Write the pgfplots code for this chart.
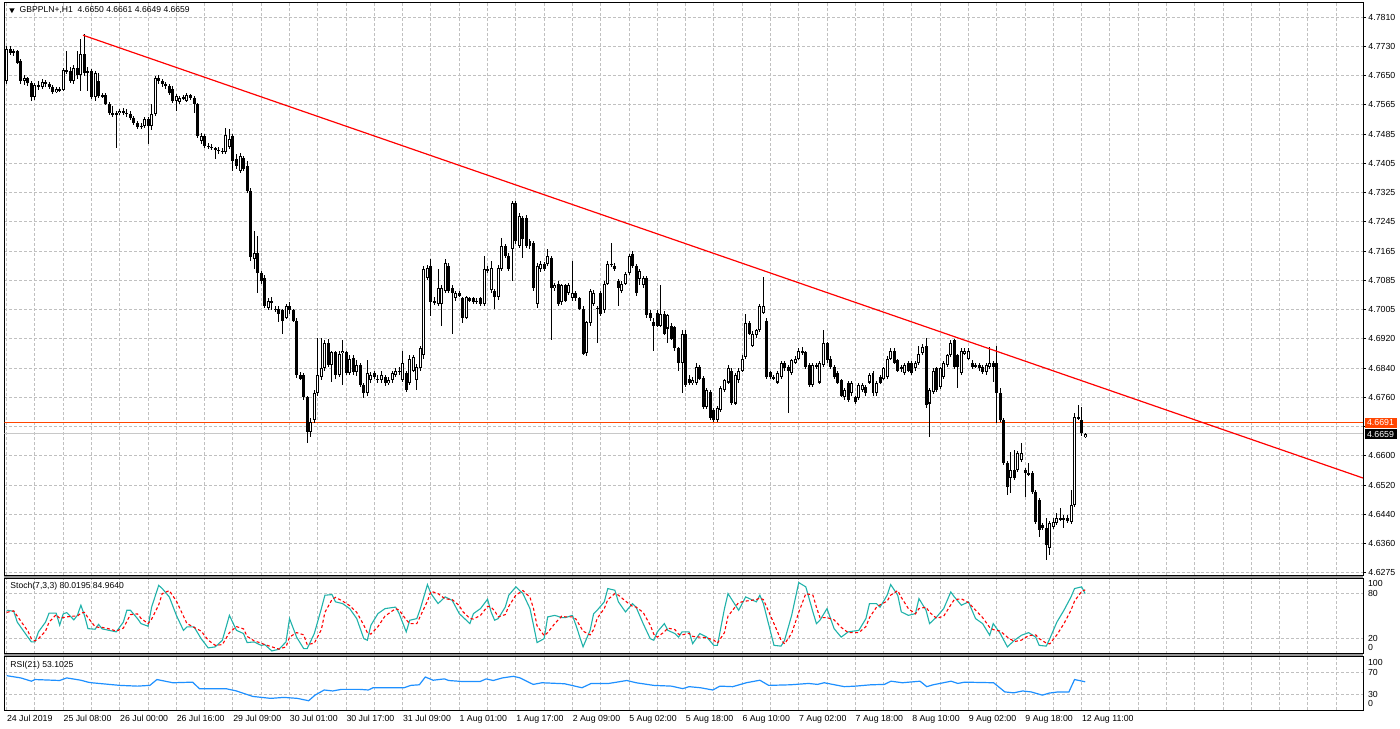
\documentclass[border=0pt]{standalone}
\usepackage{pgfplots}
\pgfplotsset{compat=1.18}
\usepackage{pgfplotstable}
\usepackage{fontspec}
\setmainfont{Liberation Sans}
\definecolor{gridc}{RGB}{192,192,192}
\definecolor{orangered}{RGB}{255,69,0}
\definecolor{stochk}{RGB}{32,178,170}
\definecolor{rsic}{RGB}{30,144,255}
\definecolor{sepc}{RGB}{150,150,150}
\definecolor{bidc}{RGB}{200,200,200}

\pgfplotstableread{
i o c h l
0 4.7634 4.7722 4.7730 4.7625
1 4.7722 4.7711 4.7730 4.7705
2 4.7711 4.7716 4.7722 4.7702
3 4.7716 4.7683 4.7719 4.7680
4 4.7689 4.7634 4.7694 4.7625
5 4.7634 4.7642 4.7650 4.7622
6 4.7642 4.7628 4.7645 4.7620
7 4.7628 4.7589 4.7634 4.7578
8 4.7589 4.7622 4.7628 4.7581
9 4.7622 4.7617 4.7634 4.7609
10 4.7617 4.7631 4.7639 4.7611
11 4.7631 4.7625 4.7636 4.7617
12 4.7625 4.7617 4.7631 4.7611
13 4.7617 4.7603 4.7622 4.7598
14 4.7603 4.7611 4.7617 4.7600
15 4.7611 4.7609 4.7617 4.7603
16 4.7609 4.7664 4.7669 4.7606
17 4.7664 4.7661 4.7716 4.7653
18 4.7661 4.7634 4.7672 4.7628
19 4.7634 4.7669 4.7678 4.7625
20 4.7669 4.7650 4.7716 4.7639
21 4.7650 4.7708 4.7749 4.7606
22 4.7708 4.7656 4.7763 4.7647
23 4.7656 4.7661 4.7672 4.7606
24 4.7661 4.7589 4.7667 4.7584
25 4.7589 4.7656 4.7661 4.7578
26 4.7634 4.7592 4.7656 4.7587
27 4.7592 4.7595 4.7600 4.7587
28 4.7595 4.7570 4.7600 4.7567
29 4.7570 4.7545 4.7576 4.7540
30 4.7545 4.7540 4.7565 4.7534
31 4.7540 4.7545 4.7551 4.7449
32 4.7545 4.7551 4.7556 4.7540
33 4.7551 4.7545 4.7559 4.7540
34 4.7545 4.7543 4.7556 4.7534
35 4.7543 4.7532 4.7551 4.7526
36 4.7532 4.7518 4.7537 4.7512
37 4.7518 4.7507 4.7523 4.7501
38 4.7507 4.7510 4.7518 4.7501
39 4.7510 4.7529 4.7534 4.7504
40 4.7529 4.7510 4.7534 4.7460
41 4.7510 4.7543 4.7570 4.7498
42 4.7543 4.7642 4.7647 4.7537
43 4.7642 4.7634 4.7650 4.7625
44 4.7634 4.7625 4.7639 4.7617
45 4.7625 4.7620 4.7631 4.7611
46 4.7620 4.7600 4.7625 4.7595
47 4.7611 4.7578 4.7620 4.7573
48 4.7578 4.7592 4.7598 4.7551
49 4.7576 4.7587 4.7592 4.7570
50 4.7587 4.7589 4.7595 4.7581
51 4.7578 4.7595 4.7600 4.7576
52 4.7595 4.7587 4.7598 4.7581
53 4.7587 4.7570 4.7592 4.7545
54 4.7570 4.7482 4.7573 4.7476
55 4.7468 4.7482 4.7490 4.7460
56 4.7482 4.7454 4.7487 4.7449
57 4.7454 4.7452 4.7463 4.7446
58 4.7452 4.7449 4.7460 4.7443
59 4.7449 4.7443 4.7452 4.7419
60 4.7443 4.7441 4.7452 4.7432
61 4.7441 4.7438 4.7449 4.7432
62 4.7438 4.7485 4.7504 4.7432
63 4.7452 4.7474 4.7501 4.7446
64 4.7482 4.7413 4.7487 4.7385
65 4.7419 4.7399 4.7432 4.7391
66 4.7385 4.7427 4.7435 4.7380
67 4.7421 4.7391 4.7427 4.7385
68 4.7399 4.7330 4.7413 4.7325
69 4.7330 4.7148 4.7339 4.7137
70 4.7143 4.7159 4.7220 4.7115
71 4.7159 4.7104 4.7206 4.7047
72 4.7104 4.7082 4.7110 4.7074
73 4.7090 4.7013 4.7099 4.7008
74 4.7008 4.7027 4.7033 4.7002
75 4.7027 4.7022 4.7036 4.7000
76 4.7005 4.7002 4.7013 4.6997
77 4.7005 4.6991 4.7011 4.6967
78 4.7000 4.6972 4.7005 4.6936
79 4.6980 4.7013 4.7019 4.6975
80 4.7013 4.7000 4.7022 4.6991
81 4.7000 4.6972 4.7005 4.6967
82 4.6972 4.6821 4.6978 4.6812
83 4.6821 4.6812 4.6829 4.6807
84 4.6821 4.6760 4.6826 4.6752
85 4.6760 4.6663 4.6765 4.6633
86 4.6663 4.6691 4.6702 4.6650
87 4.6697 4.6771 4.6779 4.6688
88 4.6771 4.6821 4.6925 4.6765
89 4.6815 4.6840 4.6925 4.6807
90 4.6840 4.6909 4.6917 4.6834
91 4.6909 4.6848 4.6922 4.6843
92 4.6848 4.6884 4.6889 4.6801
93 4.6884 4.6821 4.6889 4.6812
94 4.6821 4.6881 4.6889 4.6815
95 4.6881 4.6887 4.6917 4.6793
96 4.6884 4.6826 4.6889 4.6821
97 4.6826 4.6867 4.6876 4.6821
98 4.6870 4.6829 4.6878 4.6823
99 4.6829 4.6848 4.6862 4.6818
100 4.6848 4.6793 4.6854 4.6788
101 4.6793 4.6771 4.6801 4.6757
102 4.6771 4.6826 4.6862 4.6765
103 4.6807 4.6821 4.6829 4.6801
104 4.6826 4.6815 4.6834 4.6810
105 4.6812 4.6807 4.6821 4.6799
106 4.6807 4.6823 4.6832 4.6801
107 4.6815 4.6799 4.6821 4.6790
108 4.6799 4.6807 4.6815 4.6793
109 4.6807 4.6826 4.6832 4.6801
110 4.6821 4.6834 4.6840 4.6815
111 4.6834 4.6829 4.6843 4.6823
112 4.6807 4.6854 4.6889 4.6801
113 4.6826 4.6779 4.6834 4.6774
114 4.6799 4.6867 4.6876 4.6793
115 4.6834 4.6870 4.6878 4.6829
116 4.6807 4.6843 4.6851 4.6779
117 4.6840 4.6895 4.6903 4.6834
118 4.6876 4.7115 4.7124 4.6867
119 4.7090 4.7118 4.7126 4.7085
120 4.7124 4.7022 4.7143 4.6986
121 4.7022 4.7027 4.7036 4.7016
122 4.7019 4.7063 4.7115 4.7013
123 4.7019 4.7063 4.7069 4.6958
124 4.7055 4.7132 4.7143 4.7049
125 4.7124 4.7055 4.7132 4.7049
126 4.7063 4.7047 4.7069 4.6936
127 4.7033 4.7049 4.7055 4.7027
128 4.7049 4.7041 4.7055 4.7036
129 4.7033 4.6980 4.7038 4.6964
130 4.6980 4.7036 4.7041 4.6975
131 4.7033 4.7027 4.7038 4.7022
132 4.7033 4.7024 4.7038 4.7019
133 4.7024 4.7027 4.7033 4.7019
134 4.7033 4.7019 4.7038 4.7013
135 4.7019 4.7115 4.7151 4.7013
136 4.7115 4.7110 4.7124 4.7104
137 4.7055 4.7118 4.7137 4.7049
138 4.7055 4.7036 4.7060 4.7005
139 4.7036 4.7118 4.7126 4.7030
140 4.7115 4.7179 4.7201 4.7110
141 4.7179 4.7151 4.7184 4.7146
142 4.7151 4.7115 4.7159 4.7110
143 4.7171 4.7297 4.7303 4.7082
144 4.7297 4.7193 4.7303 4.7184
145 4.7179 4.7261 4.7270 4.7171
146 4.7256 4.7198 4.7261 4.7146
147 4.7256 4.7179 4.7264 4.7173
148 4.7193 4.7179 4.7198 4.7171
149 4.7187 4.7063 4.7193 4.7055
150 4.7019 4.7124 4.7132 4.7008
151 4.7115 4.7129 4.7137 4.7107
152 4.7129 4.7115 4.7135 4.7110
153 4.7129 4.7151 4.7170 4.7124
154 4.7146 4.7063 4.7151 4.6917
155 4.7063 4.7069 4.7077 4.7055
156 4.7074 4.7019 4.7080 4.7013
157 4.7022 4.7069 4.7074 4.7016
158 4.7069 4.7027 4.7074 4.7022
159 4.7049 4.7069 4.7077 4.7044
160 4.7033 4.7049 4.7137 4.7027
161 4.7049 4.7033 4.7055 4.7027
162 4.7033 4.7005 4.7038 4.7000
163 4.7005 4.6881 4.7011 4.6876
164 4.6881 4.6967 4.6972 4.6873
165 4.6964 4.7055 4.7060 4.6958
166 4.7019 4.7049 4.7055 4.7013
167 4.7008 4.7005 4.7013 4.6911
168 4.7049 4.6991 4.7055 4.6986
169 4.7000 4.7074 4.7080 4.6994
170 4.7074 4.7129 4.7137 4.7069
171 4.7129 4.7126 4.7187 4.7121
172 4.7124 4.7115 4.7132 4.7110
173 4.7082 4.7063 4.7088 4.7013
174 4.7055 4.7074 4.7080 4.7049
175 4.7074 4.7101 4.7107 4.7069
176 4.7104 4.7151 4.7157 4.7099
177 4.7157 4.7124 4.7165 4.7118
178 4.7124 4.7047 4.7129 4.7041
179 4.7088 4.7110 4.7115 4.7069
180 4.7069 4.7090 4.7096 4.7063
181 4.7090 4.6986 4.7096 4.6978
182 4.6994 4.6980 4.7000 4.6972
183 4.6967 4.6958 4.6978 4.6889
184 4.6994 4.6958 4.7000 4.6953
185 4.6958 4.6991 4.7069 4.6953
186 4.6991 4.6936 4.6997 4.6931
187 4.6950 4.6986 4.6991 4.6909
188 4.6958 4.6922 4.6964 4.6917
189 4.6953 4.6895 4.6958 4.6889
190 4.6895 4.6854 4.6900 4.6834
191 4.6854 4.6936 4.6945 4.6771
192 4.6936 4.6793 4.6945 4.6788
193 4.6812 4.6799 4.6821 4.6793
194 4.6799 4.6807 4.6815 4.6793
195 4.6799 4.6843 4.6856 4.6793
196 4.6843 4.6812 4.6848 4.6807
197 4.6812 4.6732 4.6818 4.6727
198 4.6732 4.6779 4.6785 4.6727
199 4.6774 4.6702 4.6779 4.6697
200 4.6724 4.6697 4.6730 4.6691
201 4.6697 4.6730 4.6735 4.6691
202 4.6724 4.6785 4.6790 4.6719
203 4.6779 4.6807 4.6812 4.6774
204 4.6801 4.6840 4.6848 4.6796
205 4.6834 4.6743 4.6840 4.6738
206 4.6743 4.6821 4.6826 4.6738
207 4.6807 4.6834 4.6840 4.6801
208 4.6834 4.6867 4.6876 4.6829
209 4.6870 4.6964 4.6991 4.6865
210 4.6964 4.6936 4.6972 4.6931
211 4.6903 4.6936 4.6942 4.6898
212 4.6931 4.6945 4.6950 4.6925
213 4.6945 4.7013 4.7019 4.6940
214 4.6994 4.7013 4.7093 4.6989
215 4.6972 4.6815 4.6978 4.6810
216 4.6829 4.6815 4.6834 4.6810
217 4.6815 4.6812 4.6823 4.6807
218 4.6801 4.6826 4.6832 4.6796
219 4.6815 4.6854 4.6859 4.6810
220 4.6854 4.6840 4.6859 4.6834
221 4.6843 4.6834 4.6848 4.6716
222 4.6826 4.6862 4.6867 4.6821
223 4.6856 4.6867 4.6873 4.6851
224 4.6867 4.6889 4.6895 4.6862
225 4.6889 4.6884 4.6898 4.6878
226 4.6884 4.6843 4.6889 4.6837
227 4.6848 4.6793 4.6854 4.6788
228 4.6793 4.6848 4.6854 4.6788
229 4.6848 4.6843 4.6856 4.6837
230 4.6801 4.6854 4.6859 4.6796
231 4.6848 4.6909 4.6945 4.6843
232 4.6909 4.6862 4.6914 4.6856
233 4.6867 4.6843 4.6873 4.6837
234 4.6843 4.6815 4.6848 4.6810
235 4.6826 4.6801 4.6832 4.6796
236 4.6807 4.6765 4.6812 4.6760
237 4.6760 4.6779 4.6785 4.6754
238 4.6799 4.6752 4.6804 4.6746
239 4.6771 4.6799 4.6804 4.6765
240 4.6760 4.6746 4.6765 4.6741
241 4.6757 4.6793 4.6799 4.6752
242 4.6779 4.6793 4.6799 4.6774
243 4.6788 4.6771 4.6793 4.6765
244 4.6801 4.6821 4.6826 4.6796
245 4.6826 4.6771 4.6832 4.6765
246 4.6771 4.6799 4.6804 4.6765
247 4.6815 4.6801 4.6821 4.6796
248 4.6812 4.6840 4.6845 4.6807
249 4.6815 4.6867 4.6873 4.6810
250 4.6867 4.6889 4.6895 4.6862
251 4.6889 4.6856 4.6895 4.6851
252 4.6862 4.6834 4.6867 4.6829
253 4.6843 4.6840 4.6848 4.6829
254 4.6826 4.6848 4.6854 4.6821
255 4.6854 4.6834 4.6859 4.6829
256 4.6854 4.6826 4.6859 4.6821
257 4.6840 4.6854 4.6859 4.6834
258 4.6854 4.6881 4.6903 4.6848
259 4.6881 4.6898 4.6906 4.6876
260 4.6903 4.6738 4.6925 4.6730
261 4.6743 4.6779 4.6785 4.6650
262 4.6774 4.6834 4.6840 4.6768
263 4.6840 4.6779 4.6845 4.6774
264 4.6788 4.6840 4.6845 4.6782
265 4.6815 4.6854 4.6859 4.6810
266 4.6848 4.6876 4.6881 4.6843
267 4.6876 4.6909 4.6917 4.6870
268 4.6917 4.6843 4.6922 4.6837
269 4.6876 4.6843 4.6881 4.6785
270 4.6826 4.6889 4.6895 4.6821
271 4.6881 4.6889 4.6895 4.6876
272 4.6867 4.6889 4.6895 4.6862
273 4.6856 4.6843 4.6862 4.6837
274 4.6848 4.6845 4.6854 4.6840
275 4.6848 4.6840 4.6854 4.6834
276 4.6843 4.6829 4.6848 4.6823
277 4.6829 4.6848 4.6854 4.6823
278 4.6843 4.6854 4.6898 4.6837
279 4.6854 4.6843 4.6859 4.6801
280 4.6856 4.6771 4.6903 4.6688
281 4.6771 4.6697 4.6785 4.6691
282 4.6697 4.6578 4.6702 4.6572
283 4.6578 4.6512 4.6583 4.6490
284 4.6537 4.6559 4.6608 4.6495
285 4.6559 4.6537 4.6614 4.6531
286 4.6559 4.6606 4.6611 4.6553
287 4.6586 4.6606 4.6633 4.6581
288 4.6559 4.6550 4.6564 4.6484
289 4.6550 4.6548 4.6578 4.6542
290 4.6550 4.6498 4.6556 4.6493
291 4.6498 4.6415 4.6504 4.6410
292 4.6476 4.6393 4.6482 4.6374
293 4.6407 4.6399 4.6413 4.6393
294 4.6399 4.6352 4.6426 4.6311
295 4.6344 4.6413 4.6418 4.6324
296 4.6402 4.6415 4.6426 4.6396
297 4.6413 4.6426 4.6440 4.6407
298 4.6426 4.6424 4.6454 4.6418
299 4.6424 4.6426 4.6435 4.6399
300 4.6426 4.6418 4.6435 4.6413
301 4.6415 4.6462 4.6504 4.6410
302 4.6462 4.6705 4.6716 4.6457
303 4.6705 4.6702 4.6738 4.6697
304 4.6697 4.6661 4.6732 4.6652
305 4.6650 4.6659 4.6661 4.6649
}\candles

\pgfplotstableread{
i k
0 57.8
2 56.5
3 42
6 22
7 15.6
8 15.6
9 29
11 42
12 54
14 54
15 38
16 53
17 54.7
19 45
20 51
21 64.5
22 51
23 33.3
25 32.5
26 39
27 33
29 31
31 29
33 42
34 57.8
35 57.8
37 46.7
38 40
40 36.5
41 62
43 91
44 86.7
46 75.6
48 51
50 31
51 35.6
53 35.6
55 20
57 7.6
59 9
61 17.8
63 51
65 31
67 26.7
68 14.7
70 15.6
72 11
73 12
75 3.6
77 5.8
79 15.6
80 46.7
82 22
84 6.7
85 6.7
87 26.7
89 60
90 77.8
92 78.7
93 69
95 66.7
97 60
99 46.7
101 20
102 17.8
103 37.8
105 53.3
107 60
110 62
111 53.3
113 29
114 44.5
116 46.7
117 60
119 92
120 80
122 66.7
124 75.6
126 71
128 53.3
129 48.9
131 40
132 53.3
134 60
136 72.5
137 55.6
138 44.5
139 46.7
141 62
142 77.8
144 89
146 80
148 60
149 37.8
150 14.7
152 20
153 48.9
155 51
157 48
158 48
160 51
161 37.8
163 9
165 31
166 53.3
167 57.8
169 69
170 86.7
172 84.5
173 69
175 55.6
177 66.7
178 62
180 40
182 20
183 17.8
184 29
186 40
187 31
189 26.7
190 22
191 29
193 29
194 13.3
196 26.7
198 22
200 11
201 11
203 60
204 80
207 57.8
209 75.6
212 69
213 77.8
214 66.7
217 11
219 10
220 17.8
222 51
224 94.7
226 89
228 55.6
229 40
230 44.5
232 60
234 33.3
236 22
238 29
241 31
243 46.7
244 66.7
246 66.7
247 62
249 77.8
250 92
252 77.8
253 55.6
255 51
257 53.3
258 73.3
260 57.8
261 40
263 48.9
265 60
267 82.2
268 75.6
270 64.5
272 69
274 46.7
276 40
278 24.5
279 40
281 26.7
283 9
285 17.8
287 24.5
289 28
291 22
292 11
294 10
295 20
297 42
299 57.8
301 75.6
302 86.7
304 89
305 80.02
}\stochK

\pgfplotstableread{
i d
0 55
2 57
3 50
6 30
7 20
8 17
9 20
11 30
12 42
14 52
15 47
16 48
17 49
19 50
20 50
21 54
22 55
23 48
25 36
26 35
27 35
29 33
31 30
33 34
34 43
35 52
37 53
38 47
40 40
41 46
43 65
44 80
46 84
48 70
50 50
51 40
53 35
55 30
57 18
59 11
61 12
63 28
65 36
67 33
68 23
70 17
72 14
73 12
75 9
77 6
79 9
80 22
82 28
84 25
85 12
87 14
89 32
90 55
92 72
93 75
95 70
97 64
99 55
101 38
102 28
103 26
105 36
107 50
110 60
111 58
113 45
114 40
116 40
117 50
119 70
120 83
122 80
124 73
126 72
128 64
129 56
131 47
132 46
134 51
136 63
137 62
138 57
139 49
141 52
142 63
144 78
146 84
148 75
149 60
150 37
152 24
153 28
155 40
157 50
158 49
160 49
161 46
163 30
165 25
166 32
167 47
169 60
170 72
172 80
173 78
175 70
177 63
178 62
180 55
182 38
183 26
184 22
186 29
187 34
189 32
190 26
191 25
193 27
194 23
196 22
198 21
200 18
201 14
203 28
204 50
207 68
209 70
212 72
213 74
214 72
217 40
219 18
220 13
222 27
224 55
226 80
228 78
229 62
230 48
232 48
234 45
236 35
238 28
241 28
243 36
244 48
246 62
247 65
249 70
250 78
252 84
253 75
255 60
257 53
258 60
260 62
261 55
263 47
265 50
267 65
268 72
270 73
272 68
274 58
276 48
278 35
279 32
281 30
283 22
285 16
287 18
289 24
291 25
292 20
294 14
295 13
297 25
299 40
301 58
302 70
304 83
305 84.96
}\stochD

\pgfplotstableread{
i r
0 64.5
4 60.3
7 54.2
8 57.3
15 55.5
17 60.3
21 56
23 52.4
24 51.3
32 46.4
37 45
40.5 46.4
42.5 57.3
47 51.3
52.6 52.4
54.5 40.3
62 40.3
65 36
69.6 25.8
74.7 22.2
78.4 24
82.2 22.2
85.4 17.8
87.2 28.2
89.8 37.8
92.2 36
94.7 39
99.8 39
102.3 37.8
103.6 42
110 42
112.4 42
114.3 46.4
116.7 47.5
118.4 62
120.6 56
123.8 58.5
125 55.5
128.9 53.6
133.9 53.6
135.6 58.5
137.6 55.5
140.2 60.3
143.3 63.3
145.2 60.3
148.9 48.2
151.4 51.3
157.8 49.4
162.7 42
165.3 50
170.3 50
175.4 55.5
178 51.3
183 46.4
188 45
191.2 40.3
193 44
196.2 42
199.7 37.8
201.7 45
205.3 44
209.2 51.3
213 56
215.5 46.4
221.7 47.5
226.8 50
229.3 48.2
231.2 51.3
236.9 44
240 45
244.4 47.5
248.2 48.2
250.1 54.2
253.3 51.3
258.3 54.2
260.2 44
262 47.5
267.1 54.2
269 50
270.9 52.4
279.1 51.3
282.3 34.2
284.8 32.5
287.3 36
289.7 34.2
292.9 28.2
294.8 32
297.3 34.2
300.4 34.2
302 57.3
305 53.1
}\rsitab

\begin{document}
\begin{tikzpicture}
\fill[white] (0pt,0pt) rectangle (700pt,364.5pt);
\fill[sepc] (0.5pt,75.25pt) rectangle (681.5pt,77pt);
\fill[sepc] (0.5pt,36.15pt) rectangle (681.5pt,37.65pt);
\pgfplotsset{
  mt4/.style={
    scale only axis, width=681pt, xmin=-0.649, xmax=383.6,
    axis line style={line width=0.5pt, black},
    grid=both,
    major grid style={gridc, line width=0.5pt, dash pattern=on 1.5pt off 1pt},
    minor grid style={gridc, line width=0.5pt, dash pattern=on 1.5pt off 1pt},
    xtick={0,16,...,368}, minor xtick={8,24,...,376},
    xticklabels={},
    xtick style={draw=none},
    minor tick length=0pt,
    yticklabel pos=right, ytick pos=right,
    clip mode=individual,
    font=\fontsize{4.4}{5}\selectfont,
    ticklabel style={font=\fontsize{4.4}{5}\selectfont},
    candle/.style={only marks, mark=*, mark size=0pt, mark options={draw=none, fill=none},
      error bars/.cd, y dir=both, y explicit, error mark=none},
  }
}
% main panel
\begin{axis}[mt4, anchor=south west, at={(0.5pt,77pt)}, height=286.75pt,
  ymin=4.6269, ymax=4.7849,
  ytick={4.7810,4.77292,4.76484,4.75676,4.74868,4.7406,4.73253,4.72445,4.71637,4.70829,4.70021,4.69213,4.68405,4.67597,4.66789,4.65981,4.65173,4.64365,4.63557,4.6275},
  yticklabels={4.7810,4.7730,4.7650,4.7565,4.7485,4.7405,4.7325,4.7245,4.7165,4.7085,4.7005,4.6920,4.6840,4.6760,,4.6600,4.6520,4.6440,4.6360,4.6275},
  tick align=outside, major tick length=1.5pt,
  ytick style={draw=black, line width=0.5pt},
  yticklabel style={anchor=west, inner sep=0pt, xshift=1pt},
]
\addplot[bidc, line width=0.6pt] coordinates {(-0.649,4.6659) (383.6,4.6659)};
\addplot[orangered, line width=0.6pt] coordinates {(-0.649,4.6691) (383.6,4.6691)};
\addplot[candle, error bar style={line width=0.5pt, black}]
  table[x=i, y expr={(\thisrow{h}+\thisrow{l})/2}, y error expr={(\thisrow{h}-\thisrow{l})/2}] {\candles};
\addplot[candle, error bar style={line width=1.5pt, black}]
  table[x=i, y expr={(\thisrow{o}+\thisrow{c})/2}, y error expr={max(abs(\thisrow{c}-\thisrow{o})/2,0.00014)}] {\candles};
\addplot[candle, error bar style={line width=0.5pt, white}]
  table[x=i, y expr={(\thisrow{o}+\thisrow{c})/2}, y error expr={max((\thisrow{c}-\thisrow{o})/2-0.00028,0)}] {\candles};
\addplot[red, line width=0.6pt] coordinates {(21.6,4.7760) (383.6,4.6537)};
\end{axis}
% stochastic panel
\begin{axis}[mt4, anchor=south west, at={(0.5pt,37.65pt)}, height=37.6pt,
  ymin=0, ymax=100, ytick={20,80}, yticklabels={}, ytick style={draw=none},
  yticklabel style={inner sep=0pt}]
\addplot[stochk, line width=0.55pt] table[x=i, y=k] {\stochK};
\addplot[red, line width=0.55pt, dash pattern=on 1.5pt off 1.2pt] table[x=i, y=d] {\stochD};
\end{axis}
% RSI panel
\begin{axis}[mt4, anchor=south west, at={(0.5pt,9.25pt)}, height=26.9pt,
  ymin=0, ymax=100, ytick={30,70}, yticklabels={}, ytick style={draw=none},
  yticklabel style={inner sep=0pt},
  xticklabels={24 Jul 2019,25 Jul 08:00,26 Jul 00:00,26 Jul 16:00,29 Jul 09:00,30 Jul 01:00,30 Jul 17:00,31 Jul 09:00,1 Aug 01:00,1 Aug 17:00,2 Aug 09:00,5 Aug 02:00,5 Aug 18:00,6 Aug 10:00,7 Aug 02:00,7 Aug 18:00,8 Aug 10:00,9 Aug 02:00,9 Aug 18:00,12 Aug 11:00,,,,},
  xticklabel style={anchor=north west, inner sep=0pt, yshift=-2.3pt}]
\addplot[rsic, line width=0.6pt] table[x=i, y=r] {\rsitab};
\end{axis}
% texts
\fill[black] (3pt,361pt) -- (5.6pt,361pt) -- (4.3pt,358.6pt) -- cycle;
\node[anchor=west, inner sep=0pt, font=\fontsize{4.3}{5}\selectfont] at (8pt,360pt) {GBPPLN+,H1\ \ 4.6650 4.6661 4.6649 4.6659};
\node[anchor=west, inner sep=0pt, font=\fontsize{4.3}{5}\selectfont] at (3.35pt,71.5pt) {Stoch(7,3,3) 80.0195 84.9640};
\node[anchor=west, inner sep=0pt, font=\fontsize{4.3}{5}\selectfont] at (3.35pt,32pt) {RSI(21) 53.1025};
\begin{scope}[every node/.style={anchor=west, inner sep=0pt, font=\fontsize{4.4}{5}\selectfont}]
\node at (683.8pt,73pt) {100};
\node at (683.8pt,67.6pt) {80};
\node at (683.8pt,45pt) {20};
\node at (683.8pt,40.5pt) {0};
\node at (683.8pt,33pt) {100};
\node at (683.8pt,28pt) {70};
\node at (683.8pt,17pt) {30};
\node at (683.8pt,12.5pt) {0};
\end{scope}
\node[anchor=west, inner xsep=1.3pt, inner ysep=0pt, minimum height=5.4pt, fill=orangered, text=white, font=\fontsize{4.4}{5}\selectfont] at (682pt,153.25pt) {4.6691};
\node[anchor=west, inner xsep=1.3pt, inner ysep=0pt, minimum height=5.2pt, fill=black, text=white, font=\fontsize{4.4}{5}\selectfont] at (682pt,147.6pt) {4.6659};
\end{tikzpicture}
\end{document}
